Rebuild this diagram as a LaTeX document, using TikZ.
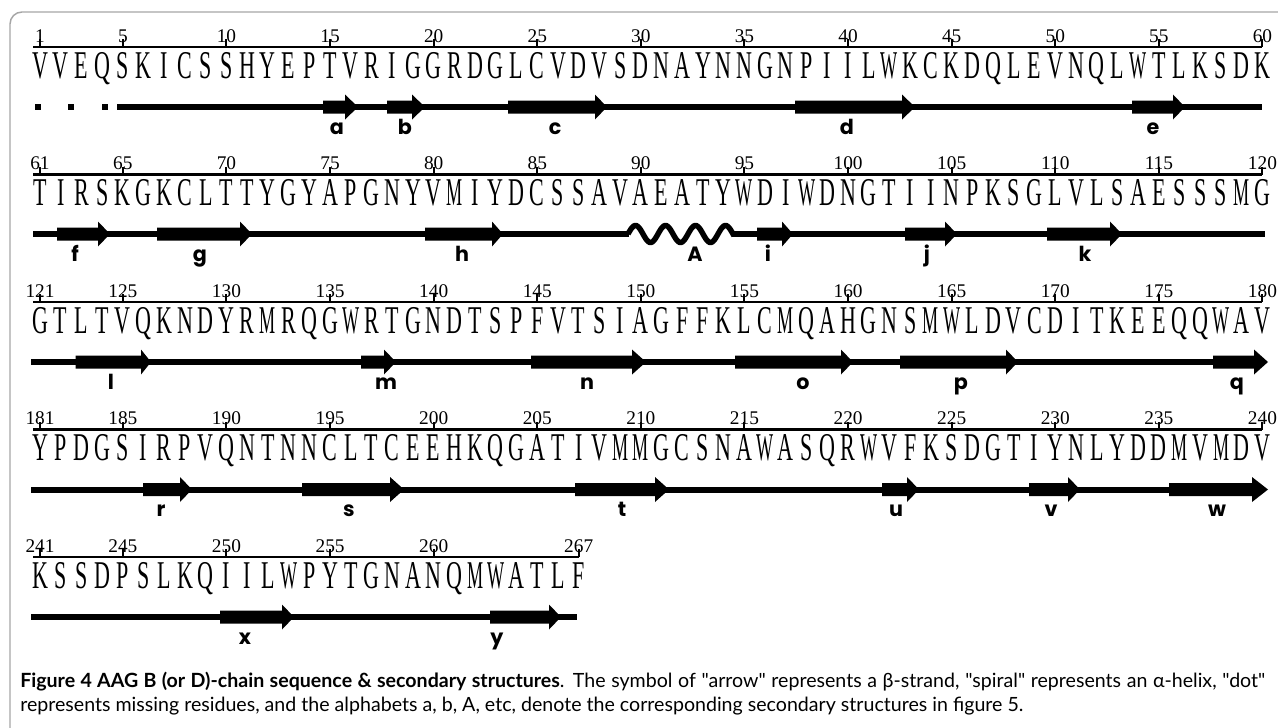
\documentclass[tikz,border=0pt]{standalone}
\usepackage{fontspec}
\setmainfont{Liberation Serif}
\newfontfamily\seqfont[FakeStretch=0.56]{Liberation Serif}
\newfontfamily\seqnarrow[FakeStretch=0.46]{Liberation Serif}
\newcommand\nM{{\seqnarrow M}}
\newcommand\nW{{\seqnarrow W}}
\newfontfamily\labfont{Poppins}
\newfontfamily\capfont{Lato}
\tikzset{
  seq/.style={font=\seqfont\fontsize{29.5}{29.5}\selectfont, inner sep=0pt, anchor=base},
  num/.style={font=\fontsize{14.5}{14.5}\selectfont, inner sep=0pt, anchor=base},
  lab/.style={font=\labfont\bfseries\fontsize{15.5}{15.5}\selectfont, inner sep=0pt, anchor=base},
  chain/.style={line width=4.5pt},
  helix/.style={line width=4.1pt},
  rulerline/.style={line width=1.9pt},
  tickline/.style={line width=1.5pt},
  frame/.style={draw=black!35, line width=1.1pt, rounded corners=9pt},
  captext/.style={font=\capfont\fontsize{14.7}{14.7}\selectfont, inner sep=0pt, anchor=base west},
}
\newcommand\rulerrow[4]{%
  \draw[rulerline] (33,#1) -- ({40+(#3-#2)*20.72},#1);
  \foreach \n in {#4} {%
    \draw[tickline] ({40+(\n-#2)*20.72},#1) -- ++(0,-8);
    \node[num] (n\n) at ({40+(\n-#2)*20.72},{#1-5}) {\n};
  }}
\newcommand\betastrand[6]{%
  \fill (#2,{#1-6.5}) -- (#3,{#1-6.5}) -- (#3,{#1-12.5}) -- (#4,#1) -- (#3,{#1+12.5}) -- (#3,{#1+6.5}) -- (#2,{#1+6.5}) -- cycle;
  \node[lab] (L#5) at (#6,{#1+27}) {#5};}
\def\rowA{V,V,E,Q,S,K,I,C,S,S,H,Y,E,P,T,V,R,I,G,G,R,D,G,L,C,V,D,V,S,D,N,A,Y,N,N,G,N,P,I,I,L,\nW,K,C,K,D,Q,L,E,V,N,Q,L,\nW,T,L,K,S,D,K}
\def\rowB{T,I,R,S,K,G,K,C,L,T,T,Y,G,Y,A,P,G,N,Y,V,\nM,I,Y,D,C,S,S,A,V,A,E,A,T,Y,\nW,D,I,\nW,D,N,G,T,I,I,N,P,K,S,G,L,V,L,S,A,E,S,S,S,\nM,G}
\def\rowC{G,T,L,T,V,Q,K,N,D,Y,R,\nM,R,Q,G,\nW,R,T,G,N,D,T,S,P,F,V,T,S,I,A,G,F,F,K,L,C,\nM,Q,A,H,G,N,S,\nM,\nW,L,D,V,C,D,I,T,K,E,E,Q,Q,\nW,A,V}
\def\rowD{Y,P,D,G,S,I,R,P,V,Q,N,T,N,N,C,L,T,C,E,E,H,K,Q,G,A,T,I,V,\nM,\nM,G,C,S,N,A,\nW,A,S,Q,R,\nW,V,F,K,S,D,G,T,I,Y,N,L,Y,D,D,\nM,V,\nM,D,V}
\def\rowE{K,S,S,D,P,S,L,K,Q,I,I,L,\nW,P,Y,T,G,N,A,N,Q,\nM,\nW,A,T,L,F}
\begin{document}
\begin{tikzpicture}[x=0.75pt,y=-0.75pt]
\useasboundingbox (0,0) rectangle (1278,728);
\fill[white] (0,0) rectangle (1278,728);
\begin{scope}
\clip (0,0) rectangle (1278,728);
\draw[frame] (1300,12) -- (10,12) -- (10,760);
\end{scope}
% ---- rulers and numbers
\rulerrow{47}{1}{60}{1,5,10,15,20,25,30,35,40,45,50,55,60}
\rulerrow{174.5}{61}{120}{61,65,70,75,80,85,90,95,100,105,110,115,120}
\rulerrow{302}{121}{180}{121,125,130,135,140,145,150,155,160,165,170,175,180}
\rulerrow{429.5}{181}{240}{181,185,190,195,200,205,210,215,220,225,230,235,240}
\rulerrow{557}{241}{267}{241,245,250,255,260,267}
% ---- sequence letters
\foreach \c [count=\i from 0] in \rowA {\node[seq] (a\i) at ({40+\i*20.72},78) {\c};}
\foreach \c [count=\i from 0] in \rowB {\node[seq] (b\i) at ({40+\i*20.72},205.5) {\c};}
\foreach \c [count=\i from 0] in \rowC {\node[seq] (c\i) at ({40+\i*20.72},333) {\c};}
\foreach \c [count=\i from 0] in \rowD {\node[seq] (d\i) at ({40+\i*20.72},460.5) {\c};}
\foreach \c [count=\i from 0] in \rowE {\node[seq] (e\i) at ({40+\i*20.72},588) {\c};}
% ---- row 1 structure
\foreach \x in {38,71,105} {\fill (\x-3,104) rectangle (\x+3,110);}
\draw[chain] (117,107) -- (1262,107);
\betastrand{107}{323}{345}{358}{a}{337}
\betastrand{107}{387}{412}{425}{b}{405}
\betastrand{107}{508}{595}{607}{c}{555}
\betastrand{107}{795}{902}{915}{d}{847}
\betastrand{107}{1132}{1173}{1185}{e}{1153}
% ---- row 2 structure
\draw[chain] (33,234) -- (629,234);
\draw[chain] (732,234) -- (1265,234);
\draw[helix] plot[domain=0:106,samples=160,smooth] ({628+\x},{234-8.5*sin(\x*12)});
\betastrand{234}{57}{98}{110}{f}{75}
\betastrand{234}{157}{240}{252}{g}{200}
\betastrand{234}{425}{492}{503}{h}{462}
\node[lab] (LA) at (695,261) {A};
\betastrand{234}{757}{782}{793}{i}{768}
\betastrand{234}{905}{945}{957}{j}{927}
\betastrand{234}{1047}{1110}{1122}{k}{1085}
% ---- row 3 structure
\draw[chain] (31,362) -- (1214,362);
\betastrand{362}{75.5}{141}{151}{l}{111}
\betastrand{362}{361}{384}{396}{m}{386}
\betastrand{362}{531}{632}{646}{n}{587}
\betastrand{362}{735}{841}{853}{o}{803}
\betastrand{362}{900}{1006}{1018}{p}{961}
\betastrand{362}{1213}{1254}{1268}{q}{1237}
% ---- row 4 structure
\draw[chain] (31,489.5) -- (1170,489.5);
\betastrand{489.5}{143}{180}{192}{r}{161}
\betastrand{489.5}{302}{390}{404}{s}{349}
\betastrand{489.5}{575}{655}{669}{t}{622}
\betastrand{489.5}{882}{907}{919}{u}{896}
\betastrand{489.5}{1029}{1068}{1080}{v}{1051}
\betastrand{489.5}{1169}{1252}{1268}{w}{1217}
% ---- row 5 structure
\draw[chain] (31,617) -- (577,617);
\betastrand{617}{220}{282}{294}{x}{245}
\betastrand{617}{490}{549}{561}{y}{497}
% ---- caption
\node[captext] (cap1) at (20,687) {\makebox[933.75pt][s]{\textbf{Figure 4 AAG B (or D)-chain sequence \& secondary structures}. The symbol of "arrow" represents a β-strand, "spiral" represents an α-helix, "dot"}};
\node[captext] (cap2) at (20,711) {represents missing residues, and the alphabets a, b, A, etc, denote the corresponding secondary structures in figure 5.};
\end{tikzpicture}
\end{document}
